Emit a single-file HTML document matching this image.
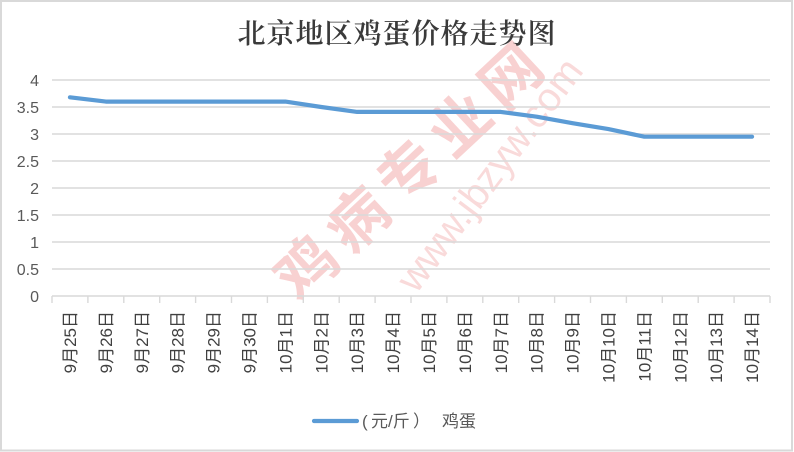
<!DOCTYPE html>
<html><head><meta charset="utf-8"><style>
html,body{margin:0;padding:0;background:#fff;}
svg{display:block;}
</style></head><body>
<svg width="794" height="452" viewBox="0 0 794 452" xmlns="http://www.w3.org/2000/svg">
<rect x="0" y="0" width="794" height="452" fill="#fff"/>
<rect x="1" y="1" width="791" height="449.5" fill="none" stroke="#d9d9d9" stroke-width="2"/>
<!-- watermark -->
<g opacity="0.2" font-family="'Noto Sans CJK SC', sans-serif" font-weight="bold" fill="#e02020">
<text x="412" y="190" font-size="60" text-anchor="middle" letter-spacing="10" transform="rotate(-43 412 168)">鸡病专业网</text>
</g>
<g opacity="0.16" font-family="'Liberation Sans', sans-serif" fill="#e02020">
<text x="490" y="188" font-size="40" text-anchor="middle" transform="rotate(-53 490 175)">www.jbzyw.com</text>
</g>
<!-- title -->
<text x="397" y="43" font-family="'Liberation Serif','Noto Serif CJK SC',serif" font-size="28" font-weight="600" fill="#3a3a3a" text-anchor="middle" letter-spacing="1">北京地区鸡蛋价格走势图</text>
<!-- gridlines -->
<g stroke="#d9d9d9" stroke-width="1.4">
<line x1="52" y1="80" x2="770" y2="80"/>
<line x1="52" y1="107" x2="770" y2="107"/>
<line x1="52" y1="134" x2="770" y2="134"/>
<line x1="52" y1="161" x2="770" y2="161"/>
<line x1="52" y1="188" x2="770" y2="188"/>
<line x1="52" y1="215" x2="770" y2="215"/>
<line x1="52" y1="242" x2="770" y2="242"/>
<line x1="52" y1="269" x2="770" y2="269"/>
<line x1="52" y1="296" x2="770" y2="296"/>
</g>
<g stroke="#d9d9d9" stroke-width="1.4">
<line x1="52" y1="296" x2="52" y2="303"/>
<line x1="87.9" y1="296" x2="87.9" y2="303"/>
<line x1="123.8" y1="296" x2="123.8" y2="303"/>
<line x1="159.7" y1="296" x2="159.7" y2="303"/>
<line x1="195.6" y1="296" x2="195.6" y2="303"/>
<line x1="231.5" y1="296" x2="231.5" y2="303"/>
<line x1="267.4" y1="296" x2="267.4" y2="303"/>
<line x1="303.3" y1="296" x2="303.3" y2="303"/>
<line x1="339.2" y1="296" x2="339.2" y2="303"/>
<line x1="375.1" y1="296" x2="375.1" y2="303"/>
<line x1="411" y1="296" x2="411" y2="303"/>
<line x1="446.9" y1="296" x2="446.9" y2="303"/>
<line x1="482.8" y1="296" x2="482.8" y2="303"/>
<line x1="518.7" y1="296" x2="518.7" y2="303"/>
<line x1="554.6" y1="296" x2="554.6" y2="303"/>
<line x1="590.5" y1="296" x2="590.5" y2="303"/>
<line x1="626.4" y1="296" x2="626.4" y2="303"/>
<line x1="662.3" y1="296" x2="662.3" y2="303"/>
<line x1="698.2" y1="296" x2="698.2" y2="303"/>
<line x1="734.1" y1="296" x2="734.1" y2="303"/>
<line x1="770" y1="296" x2="770" y2="303"/>
</g>
<!-- y labels -->
<g font-family="'Liberation Sans',sans-serif" font-size="16" fill="#595959" text-anchor="end">
<text x="39" y="86">4</text>
<text x="39" y="113">3.5</text>
<text x="39" y="140">3</text>
<text x="39" y="167">2.5</text>
<text x="39" y="194">2</text>
<text x="39" y="221">1.5</text>
<text x="39" y="248">1</text>
<text x="39" y="275">0.5</text>
<text x="39" y="302">0</text>
</g>
<!-- x labels -->
<g font-family="'Liberation Sans','Noto Sans CJK SC',sans-serif" font-size="17" fill="#404040" text-anchor="end">
<text x="76" y="311" transform="rotate(-90 76 311)">9月25日</text>
<text x="111.9" y="311" transform="rotate(-90 111.9 311)">9月26日</text>
<text x="147.8" y="311" transform="rotate(-90 147.8 311)">9月27日</text>
<text x="183.7" y="311" transform="rotate(-90 183.7 311)">9月28日</text>
<text x="219.6" y="311" transform="rotate(-90 219.6 311)">9月29日</text>
<text x="255.5" y="311" transform="rotate(-90 255.5 311)">9月30日</text>
<text x="291.4" y="311" transform="rotate(-90 291.4 311)">10月1日</text>
<text x="327.3" y="311" transform="rotate(-90 327.3 311)">10月2日</text>
<text x="363.2" y="311" transform="rotate(-90 363.2 311)">10月3日</text>
<text x="399.1" y="311" transform="rotate(-90 399.1 311)">10月4日</text>
<text x="435" y="311" transform="rotate(-90 435 311)">10月5日</text>
<text x="470.9" y="311" transform="rotate(-90 470.9 311)">10月6日</text>
<text x="506.8" y="311" transform="rotate(-90 506.8 311)">10月7日</text>
<text x="542.7" y="311" transform="rotate(-90 542.7 311)">10月8日</text>
<text x="578.6" y="311" transform="rotate(-90 578.6 311)">10月9日</text>
<text x="614.5" y="311" transform="rotate(-90 614.5 311)">10月10日</text>
<text x="650.4" y="311" transform="rotate(-90 650.4 311)">10月11日</text>
<text x="686.3" y="311" transform="rotate(-90 686.3 311)">10月12日</text>
<text x="722.2" y="311" transform="rotate(-90 722.2 311)">10月13日</text>
<text x="758.1" y="311" transform="rotate(-90 758.1 311)">10月14日</text>
</g>
<!-- series -->
<polyline fill="none" stroke="#5b9bd5" stroke-width="4.2" stroke-linecap="round" stroke-linejoin="round"
points="69.95,97.3 105.85,101.6 141.75,101.6 177.65,101.6 213.55,101.6 249.45,101.6 285.35,101.6 321.25,107 357.15,111.9 393.05,111.9 428.95,111.9 464.85,111.9 500.75,111.9 536.65,116.7 572.55,123.2 608.45,129.1 644.35,136.7 680.25,136.7 716.15,136.7 752.05,136.7"/>
<!-- legend -->
<line x1="314" y1="421" x2="357" y2="421" stroke="#5b9bd5" stroke-width="4.2" stroke-linecap="round"/>
<g font-family="'Liberation Sans','Noto Sans CJK SC',sans-serif" font-size="17" fill="#595959">
<text x="362" y="427">(</text>
<text x="371" y="427">元/斤</text>
<text x="413" y="427">）</text>
<text x="442" y="427">鸡蛋</text>
</g>
</svg>
</body></html>
